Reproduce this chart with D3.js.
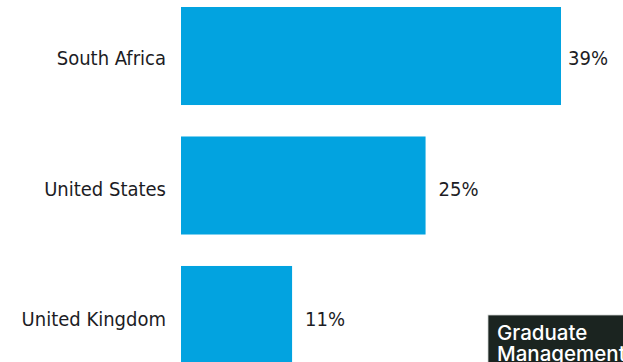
<!DOCTYPE html>
<html>
<head>
<meta charset="utf-8">
<script src="https://cdn.jsdelivr.net/npm/d3@7"></script>
<style>
  html, body { margin: 0; padding: 0; background: #ffffff; overflow: hidden; }
  svg { display: block; }
</style>
</head>
<body>
<svg id="chart" width="623" height="362"></svg>
<script>
const categories = ["South Africa", "United States", "United Kingdom"];
const values = [39, 25.1, 11.4];
const valueLabels = ["39%", "25%", "11%"];
const badgeLines = ["Graduate", "Management"];

const W = 623, H = 362;
const svg = d3.select("#chart");

const x = d3.scaleLinear().domain([0, 39]).range([181, 561]);
const y = d3.scaleBand().domain(categories).range([7, 364]).paddingInner(0.243).paddingOuter(0);

const data = categories.map((c, i) => ({ cat: c, v: values[i], label: valueLabels[i] }));

svg.selectAll("rect.bar").data(data).join("rect")
  .attr("class", "bar")
  .attr("x", x(0))
  .attr("y", d => y(d.cat))
  .attr("width", d => x(d.v) - x(0))
  .attr("height", y.bandwidth())
  .attr("fill", "#02a3e0");

const yAxis = d3.axisLeft(y).tickSize(0).tickPadding(15);
const gy = svg.append("g").attr("transform", `translate(${x(0)},0)`).call(yAxis);
gy.select(".domain").remove();
gy.selectAll("text")
  .attr("font-family", "DejaVu Sans Condensed, DejaVu Sans, sans-serif")
  .attr("font-size", 20)
  .attr("fill", "#1c1c24")
  .attr("dy", (d, i) => (0.44 + i * 0.06) + "em");

svg.selectAll("text.val").data(data).join("text")
  .attr("class", "val")
  .attr("x", d => Math.min(x(d.v) + 13, 568))
  .attr("y", d => y(d.cat) + y.bandwidth() / 2)
  .attr("dy", (d, i) => (0.44 + i * 0.06) + "em")
  .attr("font-family", "DejaVu Sans Condensed, DejaVu Sans, sans-serif")
  .attr("font-size", 20)
  .attr("fill", "#1c1c24")
  .text(d => d.label);

const badge = svg.append("g");
badge.append("rect")
  .attr("x", 488).attr("y", 315).attr("width", 140).attr("height", 60)
  .attr("fill", "#1b2420").attr("stroke", "#d0d4d2").attr("stroke-width", 0.8);
badge.selectAll("text").data(badgeLines).join("text")
  .attr("x", 497)
  .attr("y", (d, i) => 340 + i * 21)
  .attr("font-family", "Inter, Roboto, sans-serif")
  .attr("font-size", 20.5)
  .attr("font-weight", 500)
  .attr("fill", "#ffffff")
  .text(d => d);
</script>
</body>
</html>
